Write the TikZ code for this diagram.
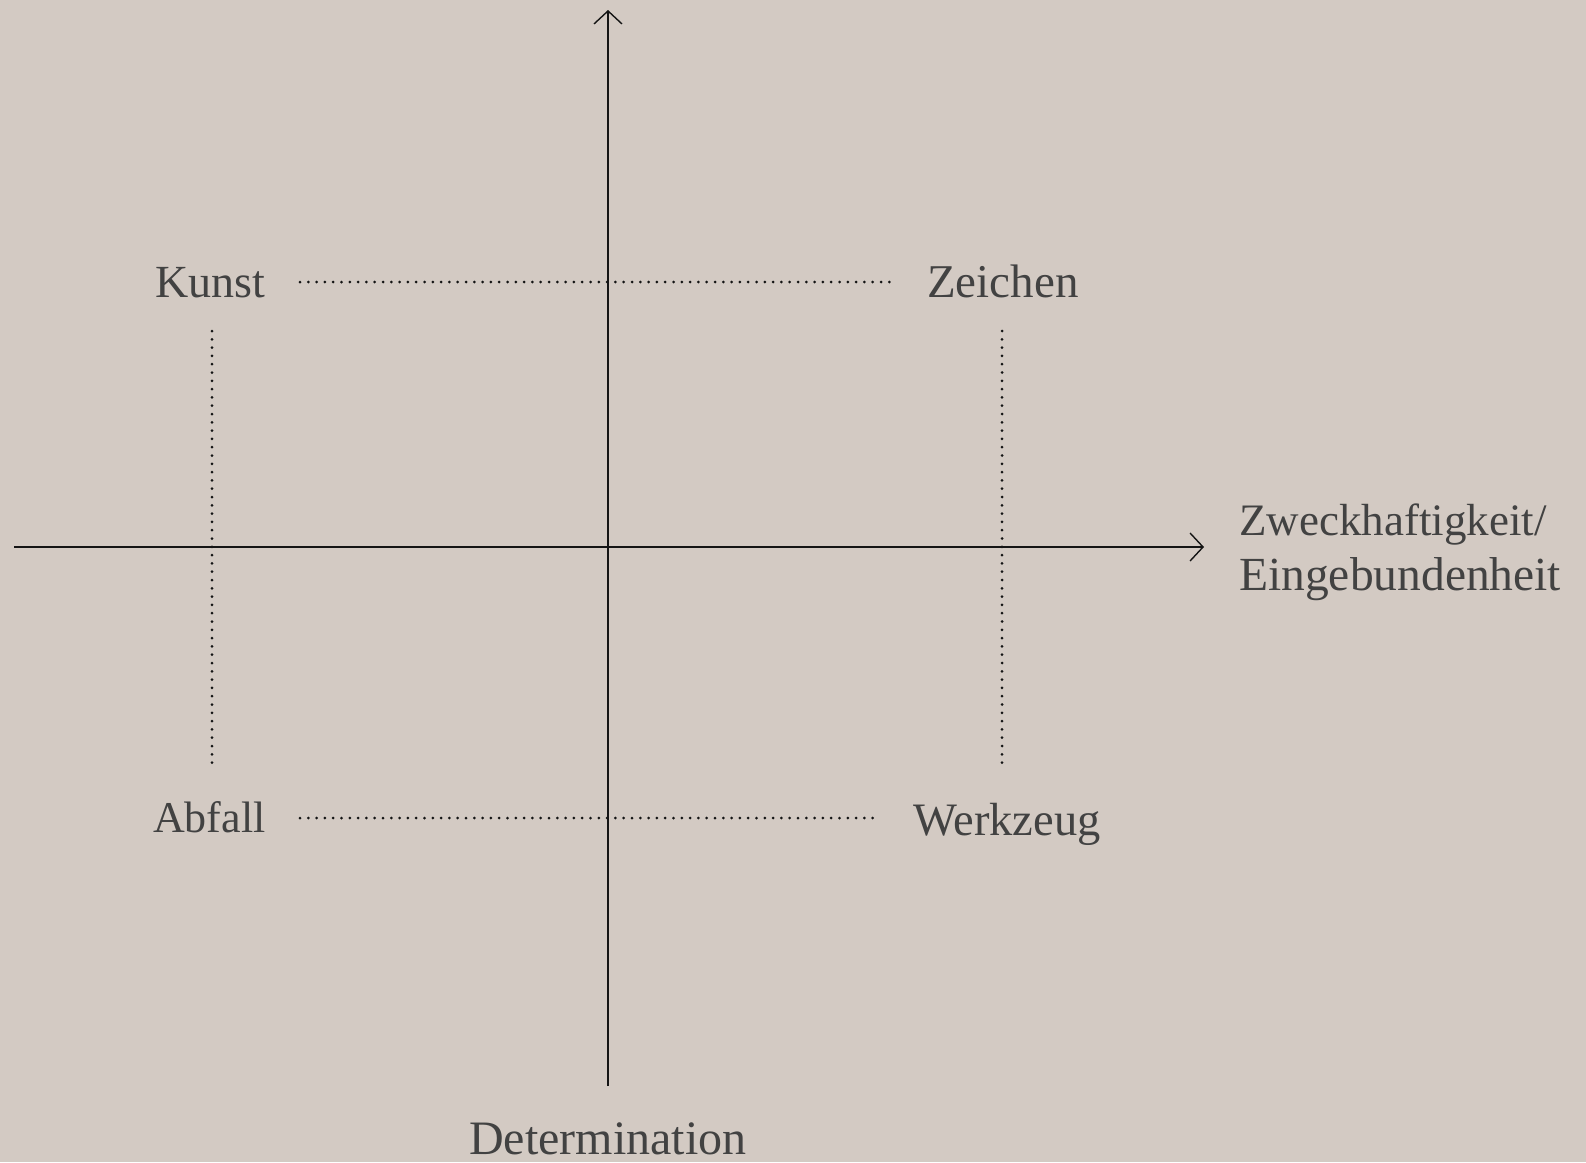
\documentclass[tikz,border=0pt]{standalone}
\usepackage{fontspec}
\setmainfont{Liberation Serif}
\usetikzlibrary{arrows.meta}
\definecolor{bg}{RGB}{211,202,195}
\definecolor{txt}{RGB}{66,66,66}
\definecolor{ln}{RGB}{20,20,20}
\begin{document}
\begin{tikzpicture}[x=1pt,y=-1pt,
  lbl/.style={inner sep=0pt,anchor=base west,text=txt,font=\fontsize{46}{55}\selectfont},
  axis/.style={draw=ln,line width=1.4pt,-{Straight Barb[length=13pt,width=28pt,line width=1.4pt]}},
  dots/.style={draw=ln,line width=3pt,line cap=round,dash pattern=on 0pt off 8.3pt}]
\fill[bg] (0,0) rectangle (1586,1162);
\useasboundingbox (0,0) rectangle (1586,1162);
% axes
\coordinate (ybot) at (608,1086);
\coordinate (ytop) at (608,10);
\coordinate (xleft) at (14,547);
\coordinate (xright) at (1204,547);
\draw[axis] (ybot) -- (ytop);
\draw[axis] (xleft) -- (xright);
% labels
\node[lbl] (kunst) at (155,297) {Kunst};
\node[lbl,font=\fontsize{47}{56}\selectfont] (zeichen) at (927,297) {Zeichen};
\node[lbl,font=\fontsize{44}{53}\selectfont] (abfall) at (153,832) {Abfall};
\node[lbl,font=\fontsize{46.5}{56}\selectfont] (werkzeug) at (913,835) {Werkzeug};
\node[lbl,font=\fontsize{45}{54}\selectfont] (zweck) at (1239,535) {Zweckhaftigkeit/};
\node[lbl,font=\fontsize{47.5}{57}\selectfont] (eingeb) at (1239,590) {Eingebundenheit};
\node[lbl,font=\fontsize{48}{57}\selectfont] (det) at (469,1154) {Determination};
% dotted connectors
\coordinate (k1) at (300,282);
\coordinate (z1) at (894,282);
\coordinate (a1) at (300,818);
\coordinate (w1) at (879,818);
\coordinate (k2) at (212,331);
\coordinate (a2) at (212,767);
\coordinate (z2) at (1002,331);
\coordinate (w2) at (1002,767);
\draw[dots] (k1) -- (z1);
\draw[dots] (a1) -- (w1);
\draw[dots] (k2) -- (a2);
\draw[dots] (z2) -- (w2);
\end{tikzpicture}
\end{document}
